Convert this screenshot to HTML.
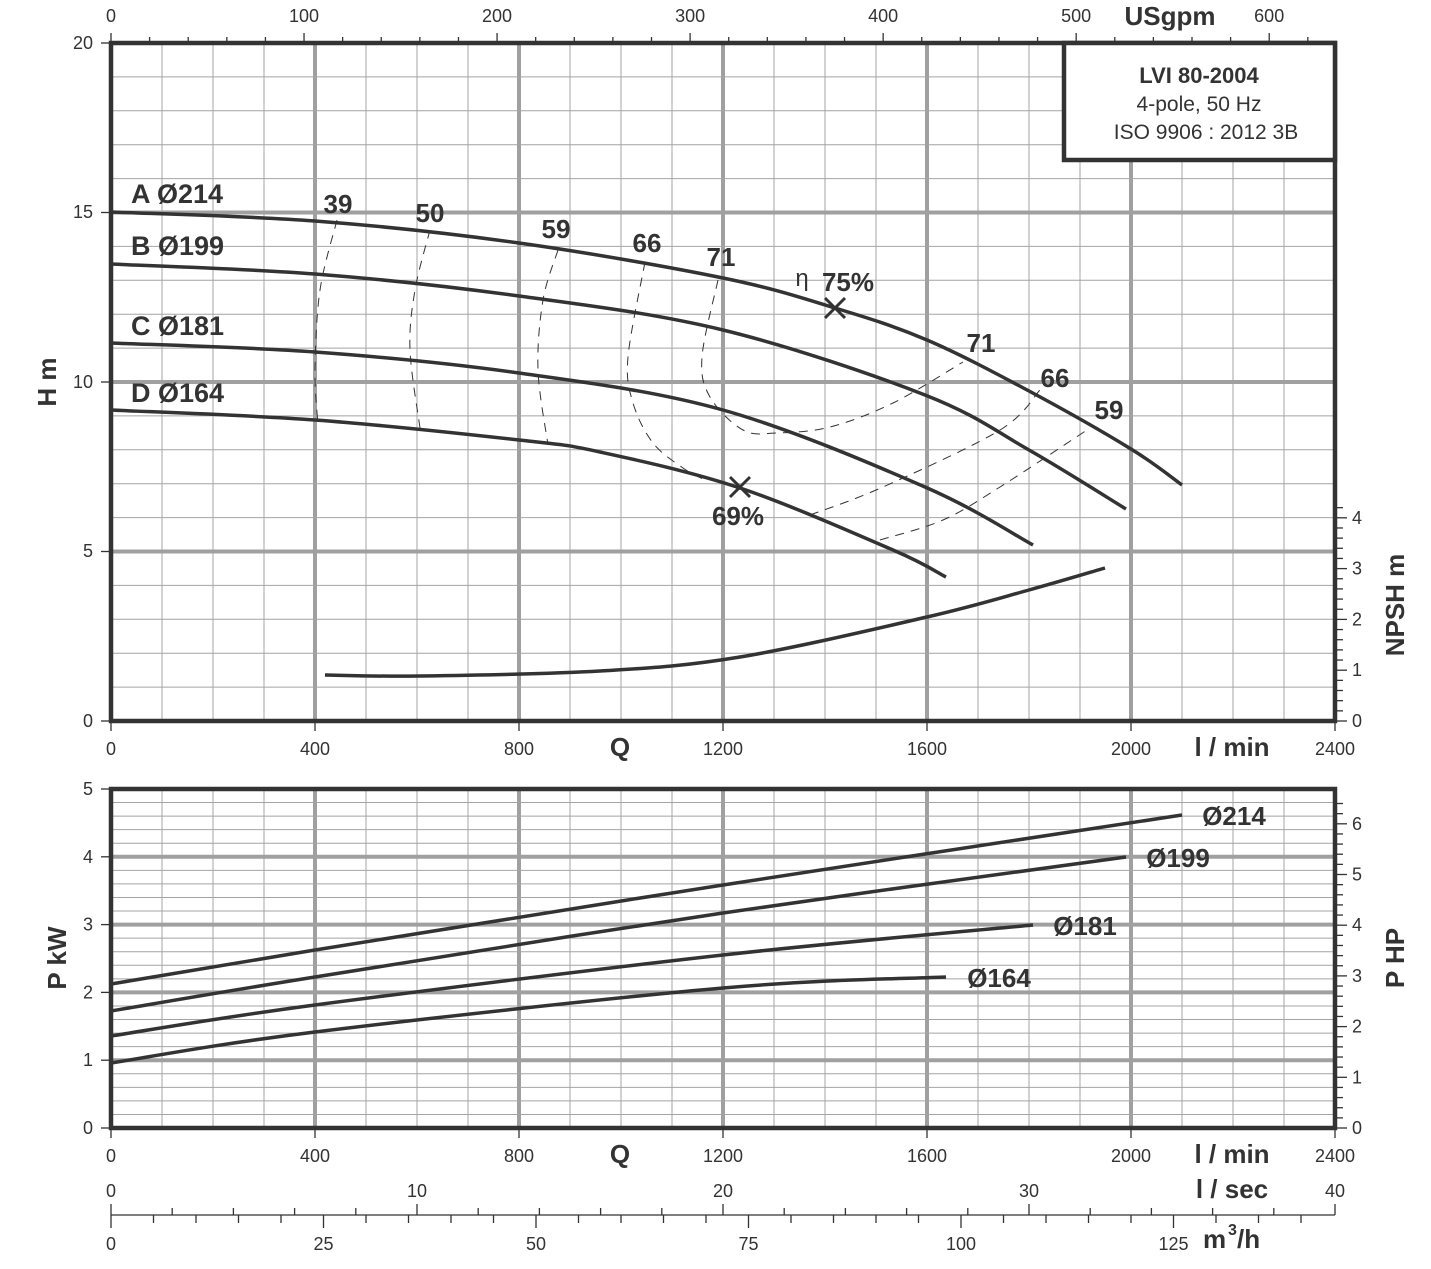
<!DOCTYPE html>
<html><head><meta charset="utf-8"><style>
body{margin:0;background:#fff}
svg{display:block;font-family:"Liberation Sans",Arial,sans-serif}
</style></head><body>
<svg id="s" width="1431" height="1269" viewBox="0 0 1431 1269" xmlns="http://www.w3.org/2000/svg">
<g id="grid"></g>
<g id="curves" fill="none" stroke="#333" stroke-width="3.5"></g>
<g id="dash" fill="none" stroke="#333" stroke-width="1" stroke-dasharray="9,7"></g>
<g id="frame"></g>
<g id="txt" fill="#333"></g>
</svg>
<script>
const NS="http://www.w3.org/2000/svg";
function el(p,t,a,txt){const e=document.createElementNS(NS,t);for(const k in a)e.setAttribute(k,a[k]);if(txt!==undefined)e.textContent=txt;document.getElementById(p).appendChild(e);return e;}
function line(p,x1,y1,x2,y2,c,w){el(p,'line',{x1,y1,x2,y2,stroke:c,'stroke-width':w});}
const X0=111,X1=1335;const px=q=>X0+q*(X1-X0)/2400;
const T0=43,T1=721;
for(let q=0;q<=2400;q+=100){const x=px(q);const maj=q%400==0;line('grid',x,T0,x,T1,maj?'#a0a0a0':'#a4a4a4',maj?4:1);}
for(let h=0;h<=20;h++){const y=T1-h*(T1-T0)/20;const maj=h%5==0;line('grid',X0,y,X1,y,maj?'#a0a0a0':'#a4a4a4',maj?4:1);}
const B0=789,B1=1128;
for(let q=0;q<=2400;q+=100){const x=px(q);const maj=q%400==0;line('grid',x,B0,x,B1,maj?'#a0a0a0':'#a4a4a4',maj?4:1);}
for(let i=0;i<=25;i++){const y=B1-i*(B1-B0)/25;const maj=i%5==0;line('grid',X0,y,X1,y,maj?'#a0a0a0':'#a4a4a4',maj?4:1);}
el('frame','rect',{x:X0,y:T0,width:X1-X0,height:T1-T0,fill:'none',stroke:'#333','stroke-width':4.5});
el('frame','rect',{x:X0,y:B0,width:X1-X0,height:B1-B0,fill:'none',stroke:'#333','stroke-width':4.5});
el('frame','rect',{x:1064,y:43,width:271,height:117,fill:'#fff',stroke:'#333','stroke-width':4.5});
const tc='#333';
for(let g=0;g<=640;g+=20){const x=X0+g*3.785*0.51;if(x>X1+1)break;line('frame',x,g%100==0?33:37,x,43,tc,1.3);}
for(let h=0;h<=20;h+=5){const y=T1-h*33.9;line('frame',101,y,111,y,tc,1.3);}
for(let i=0;i<=5;i++){const y=B1-i*67.8;line('frame',101,y,111,y,tc,1.3);}
for(let q=0;q<=2400;q+=400){line('frame',px(q),721,px(q),731,tc,1.3);line('frame',px(q),1128,px(q),1138,tc,1.3);}
for(let i=0;i<=21;i++){const y=T1-i*10.16;line('frame',1335,y,i%5==0?1347:1343,y,tc,1.3);}
for(let i=0;i<=32;i++){const y=B1-i*10.14;if(y<B0)break;line('frame',1335,y,i%5==0?1347:1343,y,tc,1.3);}
line('frame',111,1215,1335,1215,tc,1.3);
for(let s=0;s<=40;s+=2){const x=X0+s*30.6;line('frame',x,s%10==0?1204:1208,x,1215,tc,1.3);}
for(let m=0;m<=144;m+=5){const x=X0+m*8.5;if(x>X1+1)break;line('frame',x,1215,x,m%25==0?1228:1223,tc,1.3);}
function T(x,y,s,size,opt={}){const a={x,y,'font-size':size,'text-anchor':opt.a||'middle'};if(opt.b)a['font-weight']='bold';if(opt.r)a.transform=`rotate(-90 ${x} ${y})`;return el('txt','text',a,s);}
[0,100,200,300,400,500,600].forEach(g=>T(X0+g*3.785*0.51,22,g,18));
T(1170,25,'USgpm',26,{b:1});
[[20,43],[15,212],[10,382],[5,551],[0,721]].forEach(([v,y])=>T(93,y+6,v,18,{a:'end'}));
[0,1,2,3,4,5].forEach(i=>T(93,B1-i*67.8+6,i,18,{a:'end'}));
[0,400,800,1200,1600,2000,2400].forEach(q=>{T(px(q),755,q,18);T(px(q),1162,q,18);});
T(620,756,'Q',26,{b:1});T(620,1163,'Q',26,{b:1});
T(1232,756,'l / min',26,{b:1});T(1232,1163,'l / min',26,{b:1});
T(1232,1198,'l / sec',26,{b:1});
[0,10,20,30,40].forEach(s=>T(X0+s*30.6,1197,s,18));
[0,25,50,75,100,125].forEach(m=>T(X0+m*8.5,1250,m,18));
el('txt','text',{x:1203,y:1248,'font-size':26,'font-weight':'bold'},'m');
el('txt','text',{x:1228,y:1235,'font-size':16,'font-weight':'bold'},'3');
el('txt','text',{x:1237,y:1248,'font-size':26,'font-weight':'bold'},'/h');
for(let i=0;i<=4;i++)T(1352,T1-i*50.8+6,i,18,{a:'start'});
for(let i=0;i<=6;i++)T(1352,B1-i*50.7+6,i,18,{a:'start'});
T(56,382,'H m',26,{b:1,r:1});T(1404,605,'NPSH m',26,{b:1,r:1});
T(66,958,'P kW',26,{b:1,r:1});T(1404,958,'P HP',26,{b:1,r:1});
T(1199,83,'LVI 80-2004',22,{b:1});T(1199,111,'4-pole, 50 Hz',21);T(1206,139,'ISO 9906 : 2012 3B',21);
[['A Ø214',131,203],['B Ø199',131,255],['C Ø181',131,335],['D Ø164',131,402]].forEach(([s,x,y])=>T(x,y,s,27,{b:1,a:'start'}));
[['39',338,213],['50',430,222],['59',556,238],['66',647,252],['71',721,266],['71',981,352],['66',1055,387],['59',1109,419],['69%',738,525]].forEach(([s,x,y])=>T(x,y,s,26,{b:1}));
T(848,291,'75%',26,{b:1});T(802,286,'η',24);
[['Ø214',1234,825],['Ø199',1178,867],['Ø181',1085,935],['Ø164',999,987]].forEach(([s,x,y])=>T(x,y,s,26,{b:1}));
function sp(p){let d=`M${p[0][0]},${p[0][1]}`;for(let i=0;i<p.length-1;i++){const p0=p[i-1]||p[i],p1=p[i],p2=p[i+1],p3=p[i+2]||p2;d+=` C${p1[0]+(p2[0]-p0[0])/6},${p1[1]+(p2[1]-p0[1])/6} ${p2[0]-(p3[0]-p1[0])/6},${p2[1]-(p3[1]-p1[1])/6} ${p2[0]},${p2[1]}`;}return d;}
const C=[
[[111,212],[315,221],[519,243],[723,278],[835,308],[927,340],[1029,391],[1131,449],[1182,485]],
[[111,264],[315,274],[519,296],[723,330],[925,395],[1029,450],[1126,509]],
[[111,343],[315,352],[519,373],[723,410],[925,487],[1033,545]],
[[111,410],[315,420],[519,440],[600,452],[740,488],[893,550],[946,577]],
[[325,675],[420,676],[600,671],[740,657],[927,617],[1029,590],[1105,568]],
[[111,984],[315,950],[723,885],[1182,815]],
[[111,1011],[315,977],[723,913],[1126,857]],
[[111,1036],[315,1005],[723,955],[1033,925]],
[[111,1063],[315,1032],[723,988],[946,977]]];
C.forEach(p=>el('curves','path',{d:sp(p)}));
const D=[
[[337,220],[320,290],[315,370],[318,425]],
[[430,230],[415,290],[410,350],[420,428]],
[[558,250],[543,300],[538,370],[548,445]],
[[645,262],[628,357],[633,403],[653,443],[683,468],[705,480]],
[[718,280],[702,357],[710,397],[743,430],[777,433],[830,427],[893,403],[963,362]],
[[810,515],[883,487],[1000,430],[1040,390]],
[[880,540],[943,520],[1000,487],[1090,428]]];
D.forEach(p=>el('dash','path',{d:sp(p)}));
[[835,308],[740,487]].forEach(([x,y])=>{line('curves',x-10,y-10,x+10,y+10,'#333',3);line('curves',x-10,y+10,x+10,y-10,'#333',3);});
</script>
</body></html>
